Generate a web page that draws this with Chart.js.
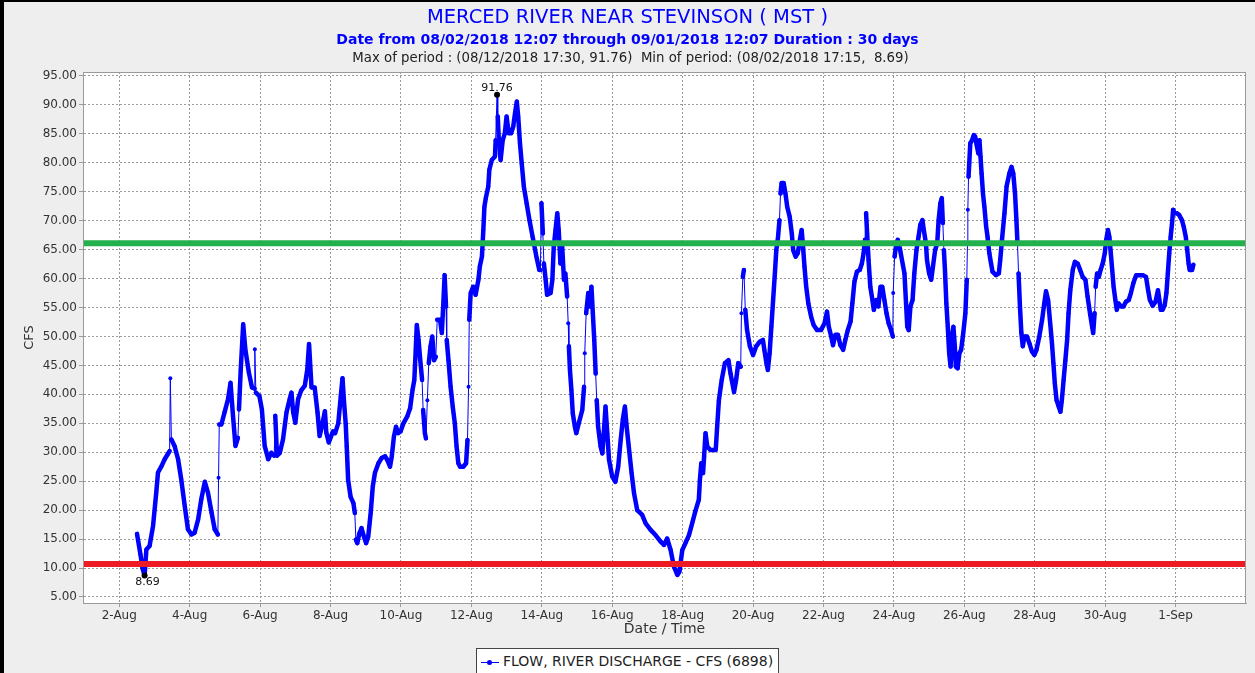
<!DOCTYPE html>
<html lang="en">
<head>
  <meta charset="UTF-8" />
  <title>Merced River near Stevinson (MST)</title>
  <script src="https://cdn.jsdelivr.net/npm/chart.js@4"></script>
  <style>
    body { margin: 0; background: #eeeeee; font-family: "DejaVu Sans", sans-serif; }
    .pagina { position: relative; width: 1255px; height: 673px; overflow: hidden; background: #eeeeee; }
    canvas { position: absolute; left: 0; top: 0; }
    .linha { position: absolute; left: 0; width: 1255px; text-align: center; white-space: pre; }
    .titulo { top: 5px; font-size: 19.5px; line-height: 24px; color: #0000ff; }
    .periodo { top: 30px; font-size: 14px; line-height: 18px; font-weight: bold; color: #0000ff; }
    .extremos { top: 50px; left: 3px; font-size: 13.3px; line-height: 16px; color: #222; }
    .legenda { position: absolute; left: 476px; top: 648px; width: 303px; height: 40px; border: 1px solid #444;
               background: #fff; font-size: 14px; line-height: 17px; padding-top: 5px; box-sizing: border-box; color: #222; }
    .simbolo { position: absolute; left: 4px; top: 13px; width: 18px; height: 1px; background: #0000ff; }
    .simbolo::after { content: ""; position: absolute; left: 6px; top: -2px; width: 5px; height: 5px; border-radius: 50%; background: #0000ff; }
    .legenda span.texto { position: absolute; left: 26px; top: 4px; }
    .borda-esq { position: absolute; left: 0; top: 0; width: 4px; height: 673px; background: #000; }
    .borda-topo { position: absolute; left: 0; top: 0; width: 1255px; height: 2px; background: #000; }
  </style>
</head>
<body>
  <div class="pagina">
    <canvas id="grafico" width="1255" height="673"></canvas>
    <div class="linha titulo">MERCED RIVER NEAR STEVINSON ( MST )</div>
    <div class="linha periodo">Date from 08/02/2018 12:07 through 09/01/2018 12:07 Duration : 30 days</div>
    <div class="linha extremos">Max of period : (08/12/2018 17:30, 91.76)  Min of period: (08/02/2018 17:15,  8.69)</div>
    <div class="legenda"><div class="simbolo"></div><span class="texto">FLOW, RIVER DISCHARGE - CFS (6898)</span></div>
    <div class="borda-esq"></div>
    <div class="borda-topo"></div>
  </div>

  <script>
    // x = day of August with fraction (Sep 1 = 32), y = CFS
    const flowAug02to07 = [
      [2.504,15.9],[2.60,12.4],[2.66,10.0],[2.719,8.69],[2.77,13.2],[2.86,13.8],[2.96,17.3],[3.05,23.0],[3.10,26.5],
      [3.20,27.6],[3.29,28.8],[3.38,29.7],[3.43,30.2],[3.45,42.8],[3.48,32.2],[3.57,31.1],[3.67,28.8],[3.76,25.3],
      [3.86,20.7],[3.95,16.7],[4.05,15.8],[4.14,16.1],[4.24,18.4],[4.33,21.9],[4.43,24.9],[4.52,23.0],[4.62,19.6],
      [4.71,16.7],[4.80,15.8],[4.82,25.6],[4.84,34.8],[4.90,34.8],[4.99,36.9],[5.09,39.2],[5.16,42.0],[5.23,36.3],
      [5.30,31.1],[5.37,32.5],[5.40,37.4],[5.45,44.3],[5.52,52.1],[5.58,47.8],[5.68,43.8],[5.77,41.2],[5.84,41.0],
      [5.85,47.8],[5.88,40.3],[5.98,39.7],[6.05,37.4],[6.13,31.1],[6.23,28.8],[6.32,29.9],[6.40,29.4],[6.43,36.3],
      [6.48,29.4],[6.56,29.9],[6.65,32.2],[6.75,36.9],[6.84,39.2],[6.89,40.3],[6.94,36.9],[7.00,35.1],[7.08,39.2],
      [7.17,40.7],[7.27,41.5],[7.34,44.3],[7.39,48.7],[7.46,41.2],[7.55,41.2],[7.63,36.9],[7.69,32.8],[7.76,34.6],
      [7.84,37.1],[7.88,33.4],[7.95,31.7]
    ];
    const flowAug08to13 = [
      [8.07,33.6],[8.13,33.3],[8.22,35.0],[8.29,39.6],[8.34,42.8],[8.38,39.0],[8.43,35.0],[8.46,31.0],[8.50,25.2],
      [8.57,22.3],[8.65,21.2],[8.69,19.5],[8.72,14.9],[8.76,14.3],[8.82,16.0],[8.88,16.9],[8.95,15.4],[9.01,14.3],
      [9.07,15.4],[9.14,19.5],[9.20,24.1],[9.26,26.4],[9.36,28.1],[9.45,29.0],[9.55,29.3],[9.61,28.7],[9.69,27.5],
      [9.74,29.3],[9.80,32.7],[9.86,34.4],[9.92,33.3],[9.99,33.6],[10.07,35.0],[10.18,36.2],[10.26,37.6],[10.33,40.8],
      [10.38,42.5],[10.42,47.7],[10.45,52.0],[10.50,49.4],[10.54,46.5],[10.60,42.5],[10.63,37.3],[10.68,33.3],
      [10.71,32.4],[10.75,39.0],[10.79,45.4],[10.84,48.3],[10.89,50.0],[10.94,45.9],[10.99,46.5],[11.03,52.9],
      [11.11,52.9],[11.16,50.6],[11.20,55.2],[11.24,60.6],[11.28,55.2],[11.30,49.4],[11.35,45.9],[11.41,41.3],
      [11.47,37.9],[11.53,35.0],[11.58,31.0],[11.63,28.1],[11.68,27.5],[11.77,27.5],[11.85,28.1],[11.89,32.1],
      [11.92,41.3],[11.94,52.9],[11.98,57.5],[12.05,58.6],[12.12,57.2],[12.20,59.8],[12.24,62.1],[12.30,63.8],
      [12.34,68.4],[12.37,72.4],[12.41,73.9],[12.48,75.9],[12.51,78.8],[12.58,80.5],[12.67,81.1],[12.69,83.9],
      [12.729,91.76],[12.75,88.0],[12.78,83.9],[12.83,80.5],[12.89,83.9],[12.95,85.1],[13.00,88.0],[13.06,85.1],
      [13.13,85.1],[13.19,86.3],[13.24,88.6],[13.29,90.6],[13.33,88.0],[13.38,83.4],[13.43,79.9],[13.49,75.9],
      [13.57,73.0],[13.65,70.1],[13.74,67.2],[13.84,64.0],[13.93,61.5]
    ];
    const flowAug14to19 = [
      [13.96,61.5],[13.99,73.0],[14.03,67.8],[14.06,62.6],[14.11,59.8],[14.15,57.2],[14.25,57.5],[14.30,59.8],
      [14.34,65.5],[14.39,68.4],[14.44,71.3],[14.48,68.4],[14.53,62.6],[14.58,65.5],[14.63,59.8],[14.67,60.9],
      [14.72,56.9],[14.75,52.3],[14.77,48.3],[14.80,44.2],[14.84,40.8],[14.88,36.7],[14.94,34.4],[14.98,33.3],
      [15.05,35.0],[15.15,37.3],[15.20,41.3],[15.22,47.1],[15.26,54.0],[15.32,57.5],[15.37,55.2],[15.41,58.6],
      [15.45,54.0],[15.49,49.4],[15.53,43.6],[15.56,39.0],[15.60,34.4],[15.67,31.0],[15.72,29.8],[15.76,33.3],
      [15.81,37.9],[15.86,33.3],[15.91,28.7],[16.00,25.8],[16.09,24.9],[16.17,27.5],[16.24,32.1],[16.30,35.6],
      [16.36,37.9],[16.41,34.4],[16.47,31.0],[16.55,26.4],[16.62,22.9],[16.71,20.0],[16.85,19.2],[16.95,17.7],
      [17.09,16.6],[17.23,15.7],[17.37,14.6],[17.47,14.0],[17.56,15.1],[17.66,13.1],[17.75,10.3],[17.85,8.8],
      [17.91,9.4],[17.99,13.1],[18.08,14.3],[18.18,15.7],[18.27,17.7],[18.37,20.0],[18.46,21.8],[18.49,25.2],
      [18.53,28.1],[18.58,26.4],[18.61,29.3],[18.65,33.3],[18.70,31.0],[18.79,30.4],[18.94,30.4],[18.98,34.4],
      [19.03,39.0],[19.11,42.5],[19.20,45.4],[19.30,45.9],[19.36,43.6],[19.46,40.4],[19.52,42.5],[19.58,45.4],
      [19.65,44.8],[19.67,54.0],[19.71,60.3],[19.74,61.5]
    ];
    const flowAug20to25 = [
      [19.78,54.6],[19.83,51.1],[19.91,48.3],[20.00,46.8],[20.09,48.3],[20.19,49.1],[20.28,49.4],[20.32,47.7],
      [20.38,45.4],[20.42,44.2],[20.47,47.1],[20.52,51.7],[20.57,56.3],[20.62,60.9],[20.66,64.9],[20.71,67.2],
      [20.75,70.1],[20.78,74.7],[20.81,76.5],[20.87,76.5],[20.92,74.7],[20.97,72.4],[21.04,70.7],[21.10,67.8],
      [21.14,64.9],[21.21,63.8],[21.27,64.4],[21.33,66.7],[21.38,68.4],[21.42,65.5],[21.46,62.1],[21.51,58.6],
      [21.57,55.7],[21.65,53.4],[21.72,52.0],[21.82,51.1],[21.93,51.1],[22.03,52.3],[22.10,54.3],[22.15,51.7],
      [22.22,50.0],[22.27,48.5],[22.34,50.3],[22.41,50.3],[22.48,48.5],[22.56,47.7],[22.62,49.4],[22.69,51.1],
      [22.77,52.6],[22.82,55.7],[22.88,59.5],[22.95,61.2],[23.03,61.5],[23.09,62.6],[23.14,64.4],[23.18,66.7],
      [23.21,71.3],[23.24,67.8],[23.28,63.2],[23.33,58.6],[23.39,56.3],[23.43,54.6],[23.50,56.3],[23.56,55.2],
      [23.62,58.6],[23.67,58.6],[23.73,56.3],[23.79,54.0],[23.85,52.3],[23.92,51.1],[23.97,50.0],[23.98,57.5],
      [24.02,63.8],[24.07,66.1],[24.11,66.7],[24.17,65.2],[24.23,63.2],[24.30,60.9],[24.34,56.3],[24.38,51.7],
      [24.42,51.1],[24.47,55.2],[24.53,56.3],[24.58,60.9],[24.64,64.9],[24.70,67.2],[24.75,69.3],[24.81,70.1],
      [24.85,68.4],[24.91,66.1],[24.94,63.2],[25.00,60.9],[25.06,59.8],[25.11,62.1],[25.17,64.9],[25.23,66.1],
      [25.27,70.1],[25.32,73.0],[25.36,73.9],[25.39,69.6],[25.42,64.9],[25.45,61.5]
    ];
    const flowAug25to31 = [
      [25.49,55.7],[25.53,51.7],[25.57,47.1],[25.61,44.8],[25.65,50.0],[25.69,51.7],[25.73,48.3],[25.76,44.8],
      [25.81,44.5],[25.86,47.1],[25.91,47.7],[25.97,50.6],[26.03,54.0],[26.07,59.8],[26.09,66.1],[26.10,71.9],
      [26.12,77.6],[26.14,79.9],[26.17,83.4],[26.22,83.9],[26.27,84.8],[26.31,84.5],[26.35,83.1],[26.40,81.6],
      [26.43,83.9],[26.46,81.1],[26.49,78.2],[26.53,74.7],[26.57,72.4],[26.62,69.0],[26.66,67.2],[26.71,64.4],
      [26.76,62.6],[26.80,61.2],[26.90,60.6],[26.98,60.9],[27.02,63.2],[27.07,66.7],[27.14,71.3],[27.20,75.9],
      [27.28,78.2],[27.34,79.3],[27.39,78.2],[27.44,74.7],[27.48,70.1],[27.51,66.1],[27.54,60.9],[27.58,55.2],
      [27.62,50.6],[27.66,48.3],[27.71,50.0],[27.78,50.0],[27.85,48.8],[27.92,47.4],[27.99,46.8],[28.05,47.7],
      [28.13,50.0],[28.21,52.9],[28.27,55.7],[28.32,57.8],[28.38,56.3],[28.43,52.9],[28.49,48.8],[28.53,45.4],
      [28.57,41.9],[28.62,39.0],[28.68,37.9],[28.73,37.0],[28.77,39.0],[28.82,42.5],[28.87,45.9],[28.92,49.4],
      [28.96,54.0],[29.01,58.0],[29.08,61.5],[29.14,62.9],[29.22,62.6],[29.29,61.5],[29.36,60.3],[29.44,59.8],
      [29.50,56.9],[29.57,54.0],[29.63,51.7],[29.66,50.6],[29.70,54.0],[29.73,58.6],[29.77,60.9],[29.82,60.3],
      [29.87,61.5],[29.93,62.6],[29.99,64.4],[30.03,66.7],[30.08,68.4],[30.12,67.2],[30.16,64.4],[30.20,61.5],
      [30.24,58.6],[30.29,56.3],[30.33,54.6],[30.38,55.7],[30.45,55.2],[30.52,55.2],[30.59,56.0],[30.67,56.3],
      [30.73,57.5],[30.80,59.2],[30.88,60.6],[30.97,60.6],[31.07,60.6],[31.16,60.3],[31.22,58.0],[31.27,56.3],
      [31.35,55.3],[31.43,56.0]
    ];
    const flowSep01 = [
      [31.50,58.0],[31.54,56.3],[31.58,54.6],[31.63,54.6],[31.69,55.4],[31.74,57.5],[31.78,60.9],[31.82,64.4],
      [31.86,67.2],[31.90,69.6],[31.93,71.9],[31.97,71.3],[32.03,71.3],[32.10,71.0],[32.18,70.1],[32.23,69.0],
      [32.29,67.2],[32.33,65.0],[32.37,62.6],[32.40,61.5],[32.47,61.5],[32.505,62.4]
    ];

    const extremes = [[12.729, 91.76], [2.719, 8.69]];
    const highLine = 66.1;
    const lowLine = 10.7;

    const dayTicks = [2, 4, 6, 8, 10, 12, 14, 16, 18, 20, 22, 24, 26, 28, 30, 32];
    const dayLabels = ['2-Aug', '4-Aug', '6-Aug', '8-Aug', '10-Aug', '12-Aug', '14-Aug', '16-Aug',
                       '18-Aug', '20-Aug', '22-Aug', '24-Aug', '26-Aug', '28-Aug', '30-Aug', '1-Sep'];
    const cfsTicks = [5, 10, 15, 20, 25, 30, 35, 40, 45, 50, 55, 60, 65, 70, 75, 80, 85, 90, 95];

    const flow = [].concat(flowAug02to07, flowAug08to13, flowAug14to19, flowAug20to25, flowAug25to31, flowSep01);

    Chart.defaults.font.family = '"DejaVu Sans", sans-serif';

    // white plot area and grey frame
    const plotFrame = {
      id: 'plotFrame',
      beforeDraw(chart) {
        const { ctx, chartArea: a } = chart;
        ctx.save();
        ctx.fillStyle = '#ffffff';
        ctx.fillRect(a.left, a.top, a.right - a.left, a.bottom - a.top);
        ctx.restore();
      },
      afterDraw(chart) {
        const { ctx, chartArea: a } = chart;
        ctx.save();
        ctx.strokeStyle = '#9a9a9a';
        ctx.lineWidth = 1;
        ctx.strokeRect(a.left + 0.5, a.top + 0.5, a.right - a.left - 1, a.bottom - a.top);
        ctx.restore();
      }
    };

    // max / min value labels
    const extremeLabels = {
      id: 'extremeLabels',
      afterDatasetsDraw(chart) {
        const { ctx, scales: { x, y } } = chart;
        ctx.save();
        ctx.font = '11px "DejaVu Sans"';
        ctx.fillStyle = '#111';
        ctx.textAlign = 'center';
        const [maxPt, minPt] = extremes;
        ctx.textBaseline = 'bottom';
        ctx.fillText(maxPt[1].toFixed(2), x.getPixelForValue(maxPt[0]), y.getPixelForValue(maxPt[1]) - 1);
        ctx.textBaseline = 'top';
        ctx.fillText(minPt[1].toFixed(2), x.getPixelForValue(minPt[0]) + 3, y.getPixelForValue(minPt[1]) + 1);
        ctx.restore();
      }
    };

    const ctx = document.getElementById('grafico').getContext('2d');
    new Chart(ctx, {
      type: 'line',
      data: {
        datasets: [
          {
            label: 'extremes',
            data: extremes,
            showLine: false,
            pointRadius: 3,
            pointBorderWidth: 0,
            pointBackgroundColor: '#000000',
            order: 0
          },
          {
            label: 'high',
            data: [[0.97, highLine], [34, highLine]],
            borderColor: '#22b14c',
            borderWidth: 6,
            pointRadius: 0,
            order: 1
          },
          {
            label: 'low',
            data: [[0.97, lowLine], [34, lowLine]],
            borderColor: '#ed1c24',
            borderWidth: 6,
            pointRadius: 0,
            order: 2
          },
          {
            label: 'FLOW, RIVER DISCHARGE - CFS (6898)',
            data: flow,
            borderColor: '#0000ff',
            backgroundColor: '#0000ff',
            borderWidth: 4.5,
            borderJoinStyle: 'round',
            borderCapStyle: 'round',
            pointRadius: 2,
            pointBorderWidth: 0,
            pointBackgroundColor: '#0000ff',
            segment: {
              // only real jumps between readings show as a thin line
              borderWidth: c => {
                const dx = Math.abs(c.p1.x - c.p0.x);
                const dy = Math.abs(c.p1.y - c.p0.y);
                return (dy > 25 * dx && dy > 15) ? 1 : 4.5;
              }
            },
            order: 3
          }
        ]
      },
      options: {
        responsive: false,
        animation: false,
        layout: { padding: { top: 72, right: 9, bottom: 0, left: 0 } },
        plugins: {
          legend: { display: false },
          tooltip: { enabled: false }
        },
        scales: {
          x: {
            type: 'linear',
            min: 0.97,
            max: 34,
            afterBuildTicks: s => { s.ticks = dayTicks.map(v => ({ value: v })); },
            afterFit: s => { s.height = 70; },
            ticks: {
              callback: v => dayLabels[dayTicks.indexOf(v)],
              autoSkip: false,
              maxRotation: 0,
              padding: 2,
              color: '#333',
              font: { size: 12 }
            },
            grid: { color: '#9a9a9a', tickLength: 4 },
            border: { color: '#9a9a9a', dash: [2, 2] },
            title: {
              display: true,
              text: 'Date / Time',
              color: '#333',
              font: { size: 14 },
              padding: { top: 0, bottom: 35 }
            }
          },
          y: {
            min: 3.96,
            max: 95.69,
            afterBuildTicks: s => { s.ticks = cfsTicks.map(v => ({ value: v })); },
            afterFit: s => { s.width = 83; },
            ticks: {
              callback: v => v.toFixed(2),
              padding: 2,
              color: '#333',
              font: { size: 12 }
            },
            grid: { color: '#9a9a9a', tickLength: 4 },
            border: { color: '#9a9a9a', dash: [2, 2] },
            title: {
              display: true,
              text: 'CFS',
              color: '#333',
              font: { size: 13 },
              padding: { top: 22, bottom: 0 }
            }
          }
        }
      },
      plugins: [plotFrame, extremeLabels]
    });
  </script>
</body>
</html>
